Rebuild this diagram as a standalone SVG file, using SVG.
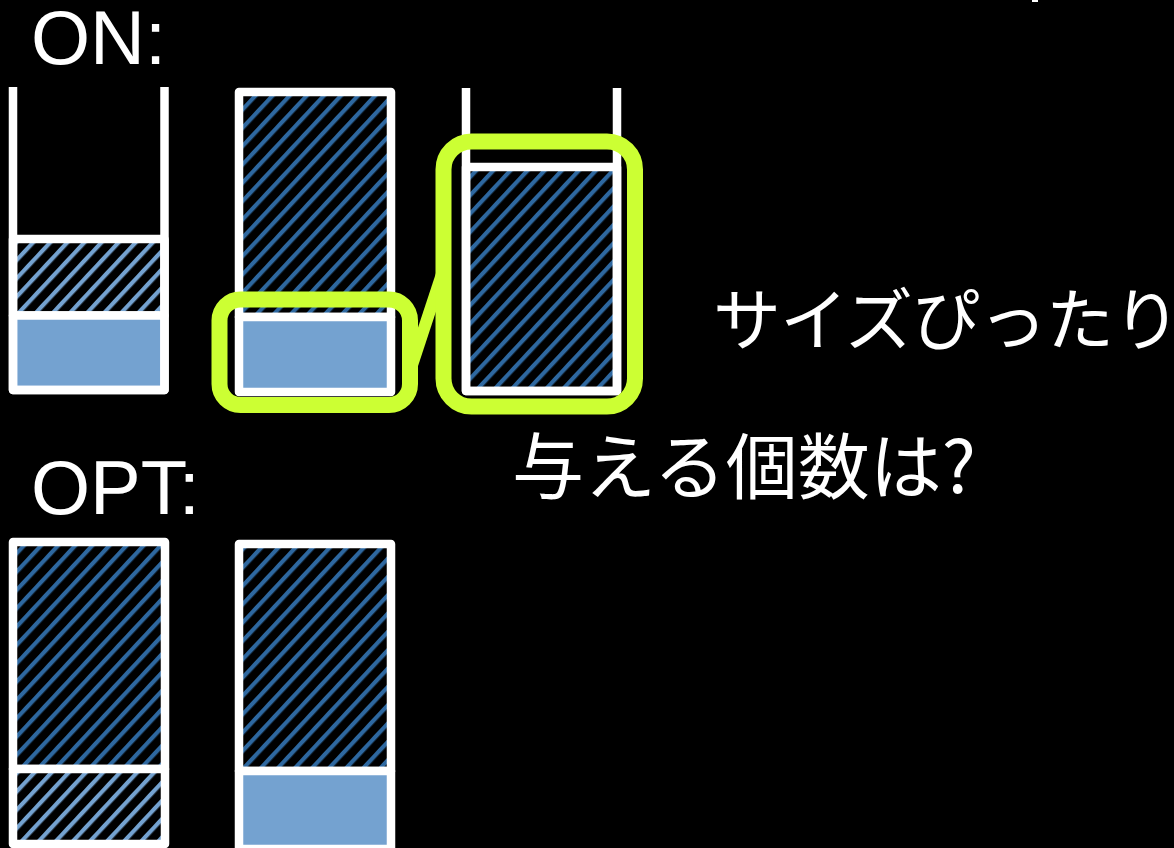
<svg xmlns="http://www.w3.org/2000/svg" width="1174" height="848" viewBox="0 0 1174 848">
  <defs>
    <pattern id="hatchDark" patternUnits="userSpaceOnUse" width="12.5" height="20" patternTransform="rotate(43)">
      <rect x="0" y="0" width="12.5" height="20" fill="#000"/>
      <rect x="0" y="0" width="4.2" height="20" fill="#2E68A0"/>
    </pattern>
    <pattern id="hatchLight" patternUnits="userSpaceOnUse" width="12.5" height="20" patternTransform="rotate(43)">
      <rect x="0" y="0" width="12.5" height="20" fill="#000"/>
      <rect x="0" y="0" width="4.2" height="20" fill="#74A2D0"/>
    </pattern>
  </defs>
  <style>
    .bin { fill: none; stroke: #fff; stroke-width: 8.5; stroke-linejoin: round; }
    .item { stroke: #fff; stroke-width: 8.5; stroke-linejoin: round; }
    .dark { fill: url(#hatchDark); }
    .light { fill: url(#hatchLight); }
    .solid { fill: #74A2D0; }
    .callout { fill: none; stroke: #CCFF33; stroke-width: 16; }
    .conn { stroke: #CCFF33; stroke-width: 12; fill: none; }
    .lbl { fill: #fff; font-family: "Liberation Sans", Arial, sans-serif; font-size: 76px; }
    .jp { fill: #fff; font-family: "Noto Sans CJK JP", "Noto Sans", sans-serif; font-size: 72px; }
    .jp-fit { font-size: 68px; letter-spacing: -1px; }
  </style>
  <rect x="0" y="0" width="1174" height="848" fill="#000"/>
  <rect x="1032" y="0" width="6" height="2" fill="#fff"/>

  <text class="lbl" x="31" y="64">ON:</text>
  <text class="lbl" x="31" y="514">OPT:</text>

  <g id="on-bin1">
    <rect class="item light" x="13" y="239" width="151.5" height="76.5"/>
    <rect class="item solid" x="13" y="315.5" width="151.5" height="74.5"/>
    <path class="bin" d="M13,87 V390 H164.5 V87"/>
  </g>
  <g id="on-bin2">
    <rect class="item dark" x="239" y="92" width="152" height="225"/>
    <rect class="item solid" x="239" y="317" width="152" height="75"/>
  </g>
  <g id="on-bin3">
    <rect class="item dark" x="466" y="167" width="151" height="224"/>
    <path class="bin" d="M466,88 V391 H617 V88"/>
  </g>
  <g id="opt-bin1">
    <rect class="item dark" x="13" y="542" width="152" height="227"/>
    <rect class="item light" x="13" y="769" width="152" height="75"/>
  </g>
  <g id="opt-bin2">
    <rect class="item dark" x="239" y="544" width="152" height="227"/>
    <rect class="item solid" x="239" y="771" width="152" height="78"/>
  </g>

  <g id="connectors">
    <line class="conn" x1="412" y1="365" x2="445" y2="265"/>
  </g>
  <g id="callout-small">
    <rect class="callout" x="219.5" y="299.5" width="190.5" height="105.5" rx="21"/>
  </g>
  <g id="callout-large">
    <rect class="callout" x="443.5" y="141.5" width="191.5" height="265" rx="28"/>
  </g>

  <g id="label-fit">
    <text class="jp jp-fit" x="713" y="345">サイズぴったり</text>
  </g>
  <g id="label-question">
    <text class="jp" x="512" y="493">与える個数は?</text>
  </g>
</svg>
